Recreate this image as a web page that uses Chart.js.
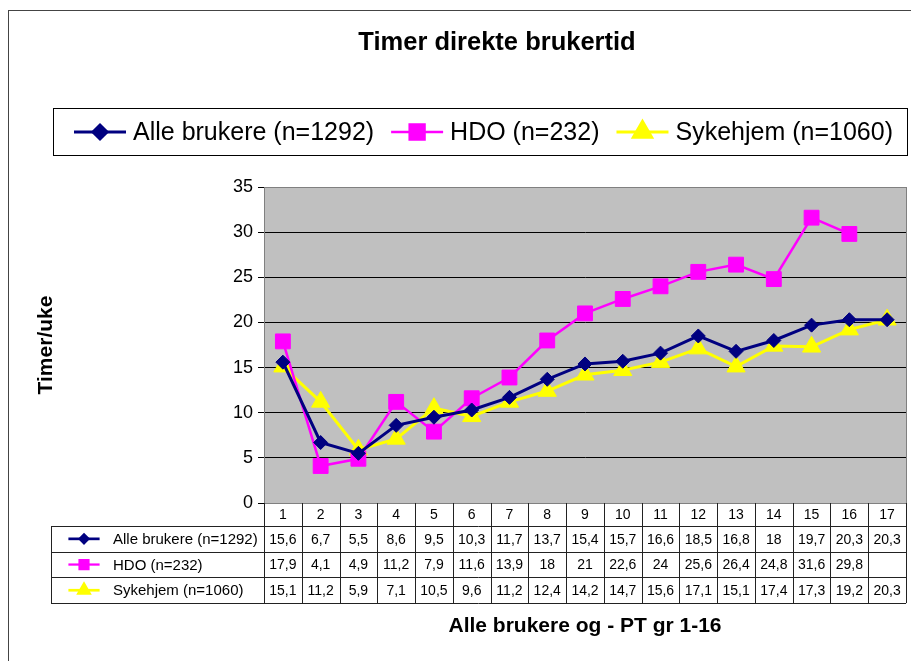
<!DOCTYPE html>
<html lang="no">
<head>
<meta charset="UTF-8">
<title>Timer direkte brukertid</title>
<script src="https://cdn.jsdelivr.net/npm/chart.js"></script>
<style>
  body {margin:0; background:#fff;}
  #wrap {width:911px; height:661px;}
</style>
</head>
<body>
<div id="wrap"><canvas id="graf" width="911" height="661"></canvas></div>
<script>
const kategorier = ['1','2','3','4','5','6','7','8','9','10','11','12','13','14','15','16','17'];
const alleBrukere = [15.6, 6.7, 5.5, 8.6, 9.5, 10.3, 11.7, 13.7, 15.4, 15.7, 16.6, 18.5, 16.8, 18, 19.7, 20.3, 20.3];
const hdo = [17.9, 4.1, 4.9, 11.2, 7.9, 11.6, 13.9, 18, 21, 22.6, 24, 25.6, 26.4, 24.8, 31.6, 29.8, null];
const sykehjem = [15.1, 11.2, 5.9, 7.1, 10.5, 9.6, 11.2, 12.4, 14.2, 14.7, 15.6, 17.1, 15.1, 17.4, 17.3, 19.2, 20.3];
const serieNavn = ['Alle brukere (n=1292)', 'HDO (n=232)', 'Sykehjem (n=1060)'];

const FONT = 'Arial, "Liberation Sans", sans-serif';

function fmt(v) {
  return v === null || v === undefined ? '' : String(v).replace('.', ',');
}

function markør(ctx, ds, x, y, skala) {
  ctx.save();
  ctx.strokeStyle = ds.borderColor;
  ctx.lineWidth = ds.borderWidth * (skala < 1 ? 0.9 : 1);
  ctx.beginPath();
  ctx.moveTo(x - 26 * skala, y);
  ctx.lineTo(x + 26 * skala, y);
  ctx.stroke();
  ctx.fillStyle = ds.pointBackgroundColor;
  ctx.strokeStyle = ds.pointBorderColor;
  Chart.helpers.drawPoint(ctx, {
    pointStyle: ds.pointStyle, radius: ds.pointRadius * skala, rotation: 0, borderWidth: 1
  }, x, y);
  ctx.restore();
}

const tegning = {
  id: 'tegning',
  beforeDraw(chart) {
    const {ctx, chartArea: a} = chart;
    ctx.save();
    ctx.fillStyle = '#fff';
    ctx.fillRect(0, 0, chart.width, chart.height);
    ctx.strokeStyle = '#444';
    ctx.lineWidth = 1;
    ctx.strokeRect(8.5, 10.5, 1200, 1200);
    ctx.fillStyle = '#c0c0c0';
    ctx.fillRect(a.left, a.top, a.right - a.left, a.bottom - a.top);
    ctx.restore();
  },
  afterDraw(chart) {
    const {ctx, chartArea: a} = chart;
    const xs = chart.scales.x;
    const sets = chart.data.datasets;
    ctx.save();

    // plot-ramme
    ctx.strokeStyle = '#808080';
    ctx.lineWidth = 1;
    ctx.strokeRect(a.left + 0.5, a.top + 0.5, a.right - a.left, a.bottom - a.top);

    // tittel
    ctx.fillStyle = '#000';
    ctx.textAlign = 'center';
    ctx.textBaseline = 'middle';
    ctx.font = 'bold 25.5px ' + FONT;
    ctx.fillText('Timer direkte brukertid', 497, 43);

    // akse-titler
    ctx.font = 'bold 21px ' + FONT;
    ctx.fillText('Alle brukere og - PT gr 1-16', (a.left + a.right) / 2, 626);
    ctx.save();
    ctx.translate(46, (a.top + a.bottom) / 2);
    ctx.rotate(-Math.PI / 2);
    ctx.fillText('Timer/uke', 0, 0);
    ctx.restore();

    // forklaring
    ctx.strokeStyle = '#000';
    ctx.strokeRect(53.5, 108.5, 854, 47);
    ctx.font = '25px ' + FONT;
    ctx.textAlign = 'left';
    let lx = 74;
    sets.forEach(ds => {
      markør(ctx, ds, lx + 26, 132, 1);
      ctx.fillStyle = '#000';
      ctx.fillText(ds.label, lx + 59, 133);
      lx += 59 + ctx.measureText(ds.label).width + 17;
    });

    // datatabell
    const n = chart.data.labels.length;
    const bredde = (a.right - a.left) / n;
    const topp = a.bottom, hodeH = 23, radH = 25.7;
    const venstre = 51;
    const bunn = topp + hodeH + radH * sets.length;
    ctx.strokeStyle = '#222';
    ctx.lineWidth = 1;
    ctx.beginPath();
    for (let i = 0; i <= n; i++) {
      const x = Math.round(a.left + i * bredde) + 0.5;
      ctx.moveTo(x, topp); ctx.lineTo(x, bunn);
    }
    for (let r = 1; r <= sets.length; r++) {
      const y = Math.round(topp + hodeH + r * radH) + 0.5;
      ctx.moveTo(venstre, y); ctx.lineTo(a.right, y);
    }
    ctx.moveTo(a.right, Math.round(topp + hodeH) + 0.5);
    ctx.lineTo(venstre, Math.round(topp + hodeH) + 0.5);
    ctx.moveTo(venstre + 0.5, Math.round(topp + hodeH)); ctx.lineTo(venstre + 0.5, bunn);
    ctx.stroke();

    ctx.fillStyle = '#000';
    ctx.textAlign = 'center';
    ctx.font = '14px ' + FONT;
    chart.data.labels.forEach((lab, i) => {
      ctx.fillText(lab, xs.getPixelForValue(i), topp + hodeH / 2 + 1);
    });
    sets.forEach((ds, r) => {
      const yc = topp + hodeH + r * radH + radH / 2 + 1;
      ctx.font = '15px ' + FONT;
      markør(ctx, ds, 84, yc - 1, 0.6);
      ctx.fillStyle = '#000';
      ctx.textAlign = 'left';
      ctx.fillText(ds.label, 113, yc);
      ctx.font = '14px ' + FONT;
      ctx.textAlign = 'center';
      ds.data.forEach((v, i) => ctx.fillText(fmt(v), xs.getPixelForValue(i), yc));
    });
    ctx.restore();
  }
};

function serie(label, data, farge, stil, radius, linje) {
  return {
    label, data,
    borderColor: farge, backgroundColor: farge,
    pointBackgroundColor: farge, pointBorderColor: farge,
    pointStyle: stil, pointRadius: radius, pointHoverRadius: radius,
    borderWidth: linje, pointBorderWidth: 1,
    spanGaps: false, tension: 0, fill: false
  };
}

new Chart(document.getElementById('graf'), {
  type: 'line',
  data: {
    labels: kategorier,
    datasets: [
      serie(serieNavn[0], alleBrukere, '#000080', 'rectRot', 7, 3),
      serie(serieNavn[1], hdo, '#ff00ff', 'rect', 10.5, 2.5),
      serie(serieNavn[2], sykehjem, '#ffff00', 'triangle', 10.5, 3)
    ]
  },
  options: {
    responsive: false,
    animation: false,
    layout: {autoPadding: false, padding: {left: 0, top: 187, right: 5, bottom: 158}},
    plugins: {legend: {display: false}, title: {display: false}, tooltip: {enabled: false}},
    scales: {
      x: {display: false, offset: true},
      y: {
        min: 0, max: 35,
        afterFit(s) { s.width = 264; },
        ticks: {stepSize: 5, color: '#000', padding: 5, font: {family: FONT, size: 18}},
        grid: {color: '#000', lineWidth: 1, drawTicks: true, tickLength: 6, tickColor: '#000'},
        border: {color: '#333', width: 1}
      }
    }
  },
  plugins: [tegning]
});
</script>
</body>
</html>
